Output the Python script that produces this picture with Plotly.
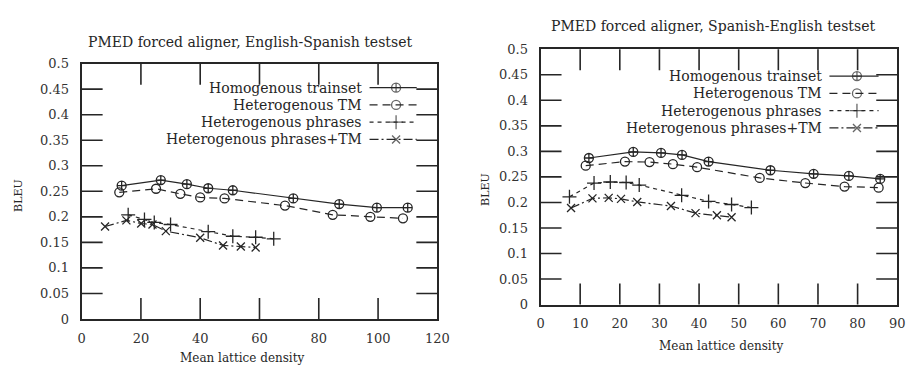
import plotly.graph_objects as go

# ---- English-Spanish testset (BLEU vs mean lattice density) ----
es_homog_x = [13.5, 26.7, 35.5, 42.7, 51.0, 71.4, 86.9, 99.6, 110.0]
es_homog_y = [0.261, 0.272, 0.264, 0.256, 0.252, 0.236, 0.225, 0.218, 0.218]
es_tm_x = [12.7, 25.1, 33.3, 40.0, 48.2, 68.6, 84.7, 97.4, 108.4]
es_tm_y = [0.248, 0.255, 0.245, 0.238, 0.236, 0.222, 0.204, 0.200, 0.197]
es_phr_x = [15.7, 21.2, 24.5, 30.0, 42.7, 51.0, 58.7, 64.8]
es_phr_y = [0.204, 0.195, 0.189, 0.185, 0.171, 0.162, 0.160, 0.157]
es_phrtm_x = [7.9, 15.1, 20.1, 23.9, 28.4, 40.0, 47.7, 53.7, 58.7]
es_phrtm_y = [0.181, 0.193, 0.187, 0.185, 0.172, 0.159, 0.144, 0.142, 0.140]

# ---- Spanish-English testset ----
se_homog_x = [12.2, 23.4, 30.4, 35.7, 42.4, 58.0, 68.9, 77.8, 85.7]
se_homog_y = [0.287, 0.299, 0.297, 0.293, 0.280, 0.263, 0.256, 0.252, 0.246]
se_tm_x = [11.4, 21.3, 27.5, 33.4, 39.5, 55.3, 66.8, 76.7, 85.3]
se_tm_y = [0.272, 0.280, 0.279, 0.275, 0.269, 0.248, 0.238, 0.231, 0.229]
se_phr_x = [7.3, 13.5, 17.6, 21.6, 24.9, 35.6, 42.4, 48.2, 53.2]
se_phr_y = [0.211, 0.238, 0.240, 0.239, 0.234, 0.214, 0.202, 0.196, 0.190]
se_phrtm_x = [7.7, 13.1, 17.2, 20.3, 24.4, 32.9, 39.1, 44.5, 48.2]
se_phrtm_y = [0.189, 0.208, 0.209, 0.207, 0.201, 0.193, 0.179, 0.175, 0.171]

series_names = ["Homogenous trainset", "Heterogenous TM",
                "Heterogenous phrases", "Heterogenous phrases+TM"]
titles = ["PMED forced aligner, English-Spanish testset",
          "PMED forced aligner, Spanish-English testset"]
x_title = "Mean lattice density"
y_title = "BLEU"

W, H = 923, 374
INK = "#262626"
FONT = "DejaVu Serif"
TICK_PX = 15

styles = [
    dict(dash="solid", symbol="circle-cross-open", size=9),
    dict(dash="8px,5px", symbol="circle-open", size=9),
    dict(dash="4px,4px", symbol="cross-thin-open", size=10),
    dict(dash="9px,3px,2px,3px", symbol="x-thin-open", size=8),
]

# plot frames in pixels: (left, right, top, bottom)
frames = [(79, 441, 59, 325), (546, 909, 44, 310)]
x_ranges = [(0, 120, 20), (0, 90, 10)]
y_range = (0, 0.5, 0.05)


def fx(px):
    return px / W


def fy(py):
    return 1 - py / H


fig = go.Figure()

data = [
    [(es_homog_x, es_homog_y), (es_tm_x, es_tm_y), (es_phr_x, es_phr_y), (es_phrtm_x, es_phrtm_y)],
    [(se_homog_x, se_homog_y), (se_tm_x, se_tm_y), (se_phr_x, se_phr_y), (se_phrtm_x, se_phrtm_y)],
]

for p, panel in enumerate(data):
    xa = "x" if p == 0 else "x2"
    ya = "y" if p == 0 else "y2"
    for (xs, ys), st in zip(panel, styles):
        fig.add_trace(go.Scatter(
            x=xs, y=ys, mode="lines+markers", xaxis=xa, yaxis=ya,
            showlegend=False,
            line=dict(color=INK, width=1.2, dash=st["dash"]),
            marker=dict(symbol=st["symbol"], size=st["size"], color=INK,
                        line=dict(color=INK, width=1.3)),
        ))

# key (right-aligned labels, line sample on the right) and inward tick
# marks on all four sides; both placed from pixel offsets converted into
# each panel's axis units
key_layout = [
    # text right edge, sample start, sample end, first row, row step (pixels)
    (366, 372, 420, 84, 18),
    (834, 840, 890, 72, 18),
]
for p, (tx, s0, s1, r0, step) in enumerate(key_layout):
    left, right, top, bottom = frames[p]
    x0, x1, dx = x_ranges[p]
    y0, y1, dy = y_range
    xa = "x" if p == 0 else "x2"
    ya = "y" if p == 0 else "y2"
    wpx, hpx = right - left, bottom - top

    def ux(px):
        return x0 + (px - left) / wpx * (x1 - x0)

    def uy(py):
        return y0 + (bottom - py) / hpx * (y1 - y0)

    for i, (name, st) in enumerate(zip(series_names, styles)):
        row = r0 + i * step
        yk = uy(row)
        xs = [ux(s0), ux((s0 + s1) / 2 + 3), ux(s1)]
        fig.add_trace(go.Scatter(
            x=xs, y=[yk] * 3, mode="lines+markers", xaxis=xa, yaxis=ya,
            showlegend=False, hoverinfo="skip",
            line=dict(color=INK, width=1.2, dash=st["dash"]),
            marker=dict(symbol=st["symbol"], size=[0, st["size"], 0], color=INK,
                        line=dict(color=INK, width=1.3)),
        ))
        fig.add_annotation(
            xref=xa, yref=ya, x=ux(tx), y=yk, text=name,
            showarrow=False, xanchor="right", yanchor="middle",
            font=dict(family=FONT, size=14, color=INK),
        )

    # tick marks: short segments centred on the frame, the outer half is
    # clipped away by the plot area so only the inward part shows
    n_x = int(round((x1 - x0) / dx))
    n_y = int(round((y1 - y0) / dy))
    xt = [x0 + j * dx for j in range(1, n_x)]
    yt = [y0 + j * dy for j in range(1, n_y)]
    fig.add_trace(go.Scatter(
        x=xt + xt, y=[y0] * len(xt) + [y1] * len(xt), mode="markers",
        xaxis=xa, yaxis=ya, showlegend=False, hoverinfo="skip", cliponaxis=True,
        marker=dict(symbol="line-ns-open", size=2 * TICK_PX, color=INK,
                    line=dict(color=INK, width=1.6)),
    ))
    fig.add_trace(go.Scatter(
        x=[x0] * len(yt) + [x1] * len(yt), y=yt + yt, mode="markers",
        xaxis=xa, yaxis=ya, showlegend=False, hoverinfo="skip", cliponaxis=True,
        marker=dict(symbol="line-ew-open", size=2 * TICK_PX, color=INK,
                    line=dict(color=INK, width=1.6)),
    ))

axis_common = dict(
    showline=True, linewidth=2, linecolor=INK, mirror=True,
    ticks="", showgrid=False, zeroline=False, layer="below traces",
    tickfont=dict(family=FONT, size=13, color="#333333"),
)

layout = dict(
    width=W, height=H, margin=dict(l=0, r=0, t=0, b=0),
    paper_bgcolor="white", plot_bgcolor="white", showlegend=False,
)
for p, (left, right, top, bottom) in enumerate(frames):
    x0, x1, dx = x_ranges[p]
    sfx = "" if p == 0 else "2"
    xd = [fx(left), fx(right)]
    yd = [fy(bottom), fy(top)]
    layout["xaxis" + sfx] = dict(axis_common, domain=xd, range=[x0, x1], dtick=dx,
                                 tick0=0, anchor="y" + sfx, ticklabelstandoff=6)
    layout["yaxis" + sfx] = dict(axis_common, domain=yd, range=[y_range[0], y_range[1]],
                                 dtick=y_range[2], tick0=0, anchor="x" + sfx,
                                 ticklabelstandoff=8)

fig.update_layout(**layout)

# titles and axis captions
label_pos = [
    dict(title=(250, 36), xlab=(243, 366), ylab=(14, 196)),
    dict(title=(722, 20), xlab=(730, 353), ylab=(490, 190)),
]
for p, pos in enumerate(label_pos):
    fig.add_annotation(xref="paper", yref="paper", x=fx(pos["title"][0]), y=fy(pos["title"][1]),
                       text=titles[p], showarrow=False, xanchor="center", yanchor="middle",
                       font=dict(family=FONT, size=14, color=INK))
    fig.add_annotation(xref="paper", yref="paper", x=fx(pos["xlab"][0]), y=fy(pos["xlab"][1]),
                       text=x_title, showarrow=False, xanchor="center", yanchor="middle",
                       font=dict(family=FONT, size=12, color=INK))
    fig.add_annotation(xref="paper", yref="paper", x=fx(pos["ylab"][0]), y=fy(pos["ylab"][1]),
                       text=y_title, showarrow=False, textangle=-90,
                       xanchor="center", yanchor="middle",
                       font=dict(family=FONT, size=11, color=INK))

fig.write_html("out.html")
